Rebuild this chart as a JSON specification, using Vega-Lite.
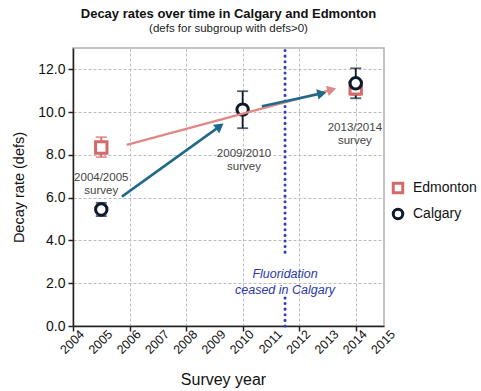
{
  "$schema": "https://vega.github.io/schema/vega-lite/v6.json",
  "width": 311,
  "height": 278,
  "autosize": "none",
  "padding": {"left": 73, "top": 48, "right": 97, "bottom": 65},
  "background": "white",
  "config": {
    "font": "Liberation Sans",
    "view": {"stroke": "#b0b0b0", "strokeWidth": 1.5}
  },
  "title": {
    "text": "Decay rates over time in Calgary and Edmonton",
    "subtitle": "(defs for subgroup with defs>0)",
    "fontSize": 13,
    "fontWeight": "bold",
    "color": "#111",
    "subtitleFontSize": 11.5,
    "subtitleColor": "#222",
    "subtitlePadding": 2,
    "anchor": "middle",
    "offset": 12
  },
  "datasets": {
    "points": [
      {"city": "Edmonton", "year": 2005, "defs": 8.35, "lo": 7.9, "hi": 8.83},
      {"city": "Edmonton", "year": 2014, "defs": 11.12, "lo": 10.8, "hi": 11.45},
      {"city": "Calgary", "year": 2005, "defs": 5.45, "lo": 5.14, "hi": 5.76},
      {"city": "Calgary", "year": 2010, "defs": 10.12, "lo": 9.25, "hi": 10.98},
      {"city": "Calgary", "year": 2014, "defs": 11.35, "lo": 10.65, "hi": 12.05}
    ],
    "arrows": [
      {"id": "edm", "x1": 2005.9, "y1": 8.47, "x2": 2013.1, "y2": 11.03},
      {"id": "cal1", "x1": 2005.73, "y1": 6.05, "x2": 2009.15, "y2": 9.3},
      {"id": "cal2", "x1": 2010.68, "y1": 10.28, "x2": 2012.75, "y2": 10.86}
    ],
    "labels": [
      {"year": 2005.0, "defs": 6.9, "label": "2004/2005\nsurvey"},
      {"year": 2010.05, "defs": 8.06, "label": "2009/2010\nsurvey"},
      {"year": 2013.97, "defs": 9.28, "label": "2013/2014\nsurvey"}
    ],
    "note": [
      {"year": 2011.5, "defs": 2.43, "label": "Fluoridation\nceased in Calgary"}
    ],
    "cease": [
      {"year": 2011.5, "from": 3.45, "to": 13},
      {"year": 2011.5, "from": 0, "to": 1.4}
    ],
    "years": [
      {"year": 2004}, {"year": 2005}, {"year": 2006}, {"year": 2007}, {"year": 2008}, {"year": 2009},
      {"year": 2010}, {"year": 2011}, {"year": 2012}, {"year": 2013}, {"year": 2014}, {"year": 2015}
    ]
  },
  "layer": [
    {
      "data": {"name": "cease"},
      "mark": {"type": "rule", "color": "#3040b0", "strokeWidth": 3, "strokeDash": [0.1, 5.5], "strokeCap": "round"},
      "encoding": {
        "x": {"field": "year", "type": "quantitative", "scale": {"domain": [2004, 2015], "nice": false, "zero": false},
          "axis": {"values": [2004,2005,2006,2007,2008,2009,2010,2011,2012,2013,2014,2015], "labels": false,
            "title": "Survey year", "titleFontSize": 16, "titleFontWeight": "normal", "titleColor": "#111", "titlePadding": 40, "titleX": 150,
            "grid": true, "gridColor": "#bcbcbc", "gridDash": [3, 2], "gridWidth": 1,
            "domainColor": "#222", "domainWidth": 1.5, "tickColor": "#222", "tickSize": 5, "tickWidth": 1.5}},
        "y": {"field": "from", "type": "quantitative", "scale": {"domain": [0, 13], "nice": false},
          "axis": {"values": [0,1,2,3,4,5,6,7,8,9,10,11,12,13],
            "labelExpr": "datum.value % 2 === 0 && datum.value <= 12 ? format(datum.value, '.1f') : ''",
            "labelFontSize": 14, "labelColor": "#111", "labelPadding": 3, "labelOverlap": false,
            "title": "Decay rate (defs)", "titleFontSize": 14.5, "titleFontWeight": "normal", "titleColor": "#111", "titlePadding": 11,
            "grid": true, "gridColor": "#bcbcbc", "gridDash": [3, 2], "gridWidth": 1,
            "gridOpacity": {"condition": {"test": "datum.value % 2 === 1 || datum.value === 0", "value": 0}, "value": 1},
            "tickSize": {"condition": {"test": "datum.value % 2 === 1", "value": 3}, "value": 5},
            "domainColor": "#222", "domainWidth": 1.5, "tickColor": "#222", "tickWidth": 1.5}},
        "y2": {"field": "to"}
      }
    },
    {
      "data": {"name": "years"},
      "mark": {"type": "text", "fontSize": 12.5, "color": "#111", "angle": 315, "align": "right", "baseline": "middle", "dx": 2, "dy": 11},
      "encoding": {
        "x": {"field": "year", "type": "quantitative"},
        "y": {"datum": 0, "type": "quantitative"},
        "text": {"field": "year", "type": "quantitative", "format": "d"}
      }
    },
    {
      "data": {"name": "labels"},
      "mark": {"type": "text", "fontSize": 11.5, "color": "#444", "lineBreak": "\n", "lineHeight": 13, "align": "center", "baseline": "middle"},
      "encoding": {
        "x": {"field": "year", "type": "quantitative"},
        "y": {"field": "defs", "type": "quantitative", "title": "Decay rate (defs)"},
        "text": {"field": "label"}
      }
    },
    {
      "data": {"name": "note"},
      "mark": {"type": "text", "fontSize": 12.5, "fontStyle": "italic", "color": "#2a38a8", "lineBreak": "\n", "lineHeight": 16, "align": "center", "baseline": "middle"},
      "encoding": {
        "x": {"field": "year", "type": "quantitative"},
        "y": {"field": "defs", "type": "quantitative", "title": "Decay rate (defs)"},
        "text": {"field": "label"}
      }
    },
    {
      "data": {"name": "points"},
      "transform": [{"filter": "datum.city === 'Edmonton'"}],
      "mark": {"type": "errorbar", "color": "#d46a6a", "ticks": {"size": 11, "thickness": 1.8}, "rule": {"strokeWidth": 1.8}},
      "encoding": {
        "x": {"field": "year", "type": "quantitative"},
        "y": {"field": "lo", "type": "quantitative", "title": "Decay rate (defs)"},
        "y2": {"field": "hi"}
      }
    },
    {
      "data": {"name": "points"},
      "transform": [{"filter": "datum.city === 'Calgary'"}],
      "mark": {"type": "errorbar", "color": "#0d1a2b", "ticks": {"size": 11, "thickness": 1.8}, "rule": {"strokeWidth": 1.8}},
      "encoding": {
        "x": {"field": "year", "type": "quantitative"},
        "y": {"field": "lo", "type": "quantitative", "title": "Decay rate (defs)"},
        "y2": {"field": "hi"}
      }
    },
    {
      "data": {"name": "points"},
      "mark": {"type": "point", "filled": false, "fill": "white", "fillOpacity": 1, "strokeWidth": 3, "opacity": 1, "size": 130},
      "encoding": {
        "x": {"field": "year", "type": "quantitative"},
        "y": {"field": "defs", "type": "quantitative", "title": "Decay rate (defs)"},
        "color": {"field": "city", "type": "nominal", "scale": {"domain": ["Edmonton", "Calgary"], "range": ["#d46a6a", "#0d1a2b"]},
          "legend": {"title": null, "orient": "none", "legendX": 318, "legendY": 133, "labelFontSize": 14, "labelColor": "#111", "symbolSize": 90, "symbolStrokeWidth": 3, "symbolFillColor": "white", "rowPadding": 4, "labelOffset": 8}},
        "shape": {"field": "city", "type": "nominal", "scale": {"domain": ["Edmonton", "Calgary"], "range": ["square", "circle"]},
          "legend": {"title": null, "orient": "none", "legendX": 318, "legendY": 133, "labelFontSize": 14, "labelColor": "#111", "symbolSize": 90, "symbolStrokeWidth": 3, "symbolFillColor": "white", "rowPadding": 4, "labelOffset": 8}}
      }
    },
    {
      "data": {"name": "arrows"},
      "transform": [{"filter": "datum.id === 'edm'"}],
      "layer": [
        {"mark": {"type": "rule", "color": "#e08886", "strokeWidth": 2.5},
          "encoding": {"x": {"field": "x1", "type": "quantitative"}, "y": {"field": "y1", "type": "quantitative", "title": "Decay rate (defs)"}, "x2": {"field": "x2"}, "y2": {"field": "y2"}}},
        {"mark": {"type": "point", "shape": "triangle", "filled": true, "color": "#e08886", "size": 110, "angle": 75, "opacity": 1},
          "encoding": {"x": {"field": "x2", "type": "quantitative"}, "y": {"field": "y2", "type": "quantitative", "title": "Decay rate (defs)"}}}
      ]
    },
    {
      "data": {"name": "arrows"},
      "transform": [{"filter": "datum.id === 'cal1'"}],
      "layer": [
        {"mark": {"type": "rule", "color": "#1f6a8a", "strokeWidth": 2.5},
          "encoding": {"x": {"field": "x1", "type": "quantitative"}, "y": {"field": "y1", "type": "quantitative", "title": "Decay rate (defs)"}, "x2": {"field": "x2"}, "y2": {"field": "y2"}}},
        {"mark": {"type": "point", "shape": "triangle", "filled": true, "color": "#1f6a8a", "size": 110, "angle": 54, "opacity": 1},
          "encoding": {"x": {"field": "x2", "type": "quantitative"}, "y": {"field": "y2", "type": "quantitative", "title": "Decay rate (defs)"}}}
      ]
    },
    {
      "data": {"name": "arrows"},
      "transform": [{"filter": "datum.id === 'cal2'"}],
      "layer": [
        {"mark": {"type": "rule", "color": "#1f6a8a", "strokeWidth": 2.5},
          "encoding": {"x": {"field": "x1", "type": "quantitative"}, "y": {"field": "y1", "type": "quantitative", "title": "Decay rate (defs)"}, "x2": {"field": "x2"}, "y2": {"field": "y2"}}},
        {"mark": {"type": "point", "shape": "triangle", "filled": true, "color": "#1f6a8a", "size": 110, "angle": 78, "opacity": 1},
          "encoding": {"x": {"field": "x2", "type": "quantitative"}, "y": {"field": "y2", "type": "quantitative", "title": "Decay rate (defs)"}}}
      ]
    }
  ]
}
